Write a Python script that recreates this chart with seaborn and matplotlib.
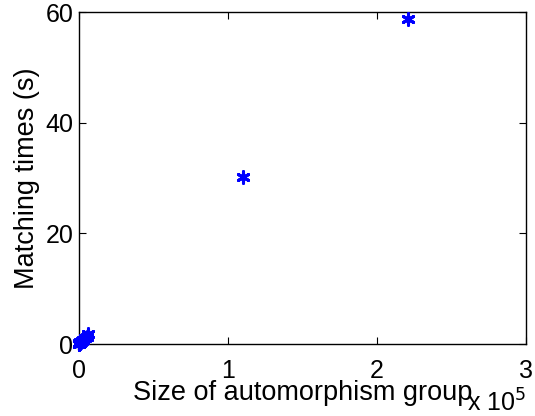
import matplotlib
matplotlib.use("Agg")
import matplotlib.pyplot as plt
import seaborn as sns
import pandas as pd

sns.set_theme(style="white")
plt.rcParams['font.family'] = ['Liberation Sans', 'DejaVu Sans']
plt.rcParams['text.color'] = 'black'
plt.rcParams['axes.labelcolor'] = 'black'

group_size = [1, 2, 6, 24, 120, 360, 720, 1000, 1440, 2000, 2880, 4000, 5040, 6000, 110000, 221000]
match_time = [0.01, 0.02, 0.03, 0.05, 0.1, 0.15, 0.25, 0.3, 0.4, 0.5, 0.7, 1.0, 1.3, 1.8, 30.2, 58.8]
x_ticks = [0, 100000, 200000, 300000]
x_tick_labels = ["0", "1", "2", "3"]
y_ticks = [0, 20, 40, 60]

df = pd.DataFrame({"size": group_size, "time": match_time})

fs = 18
lfs = 19.5
fig = plt.figure(figsize=(5.35, 4.16), dpi=100)
ax = fig.add_axes([79/535, 1 - 344/416, (526-79)/535, (344-12)/416])
sns.scatterplot(data=df, x="size", y="time", ax=ax, marker=(6, 2, 0), s=70,
                color="#0000ff", edgecolor="#0000ff", linewidth=2.2, legend=False,
                clip_on=False, zorder=5)
ax.set_xlim(0, 300000)
ax.set_ylim(0, 60)
ax.set_xticks(x_ticks)
ax.set_xticklabels(x_tick_labels)
ax.set_yticks(y_ticks)
ax.tick_params(axis="both", labelsize=fs, direction="in", length=5, width=0.8,
               top=True, right=True, bottom=True, left=True, colors="black", pad=4)
ax.tick_params(axis="x", pad=10.5)
for s in ax.spines.values():
    s.set_visible(True)
    s.set_color("black")
    s.set_linewidth(1.0)
ax.set_xlabel("Size of automorphism group", fontsize=lfs, labelpad=-1.5, color="black")
ax.set_ylabel("Matching times (s)", fontsize=lfs, labelpad=4, color="black")
ax.text(1.0, -0.205, r"x 10$^{5}$", transform=ax.transAxes, fontsize=fs,
        ha="right", va="baseline", color="black")
fig.savefig("out.png", dpi=100)
